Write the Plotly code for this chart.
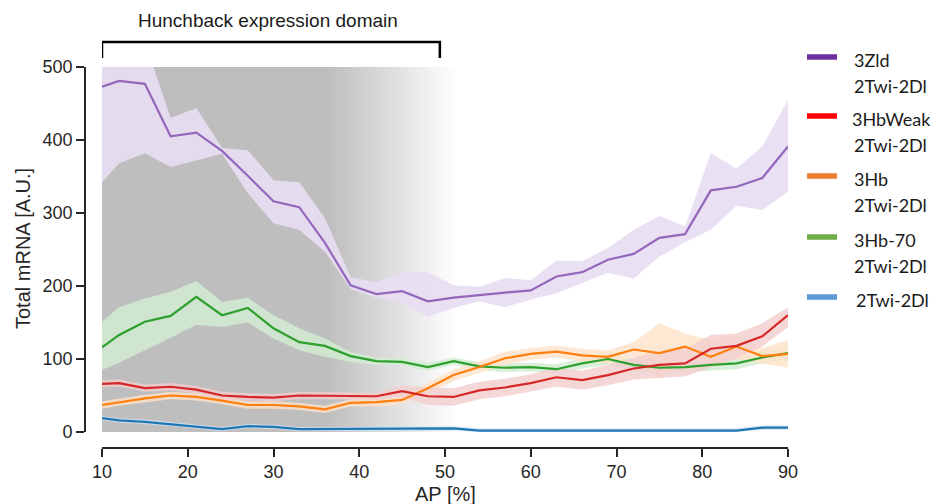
import plotly.graph_objects as go

# ---------------- data ----------------
ap = [10, 12, 15, 18, 21, 24, 27, 30, 33, 36, 39, 42, 45, 48, 51, 54, 57, 60,
      63, 66, 69, 72, 75, 78, 81, 84, 87, 90]

zld_mean = [473, 481, 477, 405, 410, 385, 351, 316, 308, 259, 201, 189, 193, 179,
            184, 188, 191, 194, 213, 219, 236, 244, 266, 271, 331, 336, 348, 391]
zld_upper = [600, 590, 535, 430, 444, 389, 386, 345, 342, 293, 212, 205, 218, 219,
             201, 199, 211, 208, 235, 234, 252, 277, 296, 282, 382, 361, 391, 455]
zld_lower = [342, 368, 382, 363, 372, 381, 327, 286, 277, 247, 196, 184, 177, 158,
             170, 179, 171, 181, 190, 204, 218, 210, 240, 260, 277, 310, 304, 329]

hbw_mean = [66, 67, 60, 62, 58, 50, 48, 47, 50, 50, 50, 49, 56, 49,
            48, 57, 61, 67, 75, 71, 78, 87, 92, 94, 114, 118, 131, 160]
hbw_upper = [71, 72, 65, 67, 63, 55, 53, 52, 55, 55, 55, 54, 64, 61,
             60, 69, 73, 79, 88, 84, 92, 102, 110, 114, 133, 135, 149, 171]
hbw_lower = [61, 62, 55, 57, 53, 45, 43, 42, 45, 45, 45, 44, 48, 37,
             36, 45, 49, 55, 62, 58, 64, 72, 74, 76, 88, 101, 117, 144]

hb_mean = [37, 41, 46, 50, 48, 43, 37, 37, 35, 31, 40, 41, 44, 60,
           78, 89, 101, 107, 110, 105, 103, 113, 108, 117, 103, 117, 104, 107]
hb_upper = [42, 46, 51, 55, 53, 48, 42, 42, 40, 36, 45, 47, 50, 67,
            86, 97, 110, 115, 118, 114, 112, 123, 149, 135, 126, 133, 115, 126]
hb_lower = [32, 36, 41, 45, 43, 38, 32, 32, 30, 26, 35, 35, 38, 53,
            70, 81, 92, 99, 102, 96, 94, 103, 74, 101, 92, 100, 94, 88]

hb70_mean = [116, 133, 151, 159, 185, 160, 170, 142, 123, 118, 104, 97, 96, 89,
             97, 90, 88, 89, 86, 94, 100, 92, 88, 89, 92, 94, 102, 108]
hb70_upper = [151, 171, 183, 192, 207, 178, 184, 160, 142, 128, 110, 102, 101, 95,
              102, 96, 94, 95, 93, 101, 108, 100, 96, 97, 100, 103, 111, 118]
hb70_lower = [85, 95, 112, 129, 147, 144, 150, 128, 112, 103, 96, 92, 91, 84,
              92, 85, 82, 83, 80, 87, 92, 84, 80, 81, 84, 86, 94, 98]

twi_mean = [19, 16, 14, 11, 8, 4, 8, 7, 4, 4, 4, 4, 4, 4,
            5, 2, 2, 2, 2, 2, 2, 3, 2, 3, 3, 2, 6, 6]
twi_upper = [v + 3 for v in twi_mean]
twi_lower = [max(v - 3, 0) for v in twi_mean]

legend_line1 = ["3Zld", "3HbWeak", "3Hb", "3Hb-70", "2Twi-2Dl"]
legend_line2 = ["2Twi-2Dl", "2Twi-2Dl", "2Twi-2Dl", "2Twi-2Dl", ""]

x_ticks = [10, 20, 30, 40, 50, 60, 70, 80, 90]
y_ticks = [0, 100, 200, 300, 400, 500]

domain_start, domain_end = 10, 49.4       # hunchback bracket (AP %)
gray_solid_end, gray_fade_end = 36.5, 51.5  # shaded background

# ---------------- style ----------------
W, H = 935, 504
ML, MR, MT, MB = 85, 146, 67, 56
PW, PH = W - ML - MR, H - MT - MB


def px_x(p):
    return (p - ML) / PW


def px_y(p):
    return (H - MB - p) / PH


series = [
    # mean, upper, lower, line colour, band colour
    (twi_mean, twi_upper, twi_lower, "#1f77b4", "rgba(208,226,240,0.85)"),
    (hb70_mean, hb70_upper, hb70_lower, "#2ca02c", "rgba(210,236,210,0.85)"),
    (hb_mean, hb_upper, hb_lower, "#ff7f0e", "rgba(255,226,200,0.8)"),
    (hbw_mean, hbw_upper, hbw_lower, "#d62728", "rgba(243,205,205,0.8)"),
    (zld_mean, zld_upper, zld_lower, "#9467bd", "rgba(231,222,242,0.92)"),
]
legend_colors = ["#7030A0", "#FF0000", "#ED7D31", "#70AD47", "#5B9BD5"]

fig = go.Figure()

for mean, up, lo, lc, bc in series:
    fig.add_trace(go.Scatter(
        x=ap + ap[::-1], y=up + lo[::-1], fill="toself", fillcolor=bc,
        line=dict(width=0), mode="lines", hoverinfo="skip", showlegend=False))

for mean, up, lo, lc, bc in series:
    fig.add_trace(go.Scatter(
        x=ap, y=mean, mode="lines", line=dict(color=lc, width=2.2),
        showlegend=False))

shapes = []
# shaded background: solid part then fading to white (overlapping strips)
shapes.append(dict(type="rect", xref="x", yref="y", x0=10, x1=gray_fade_end,
                   y0=0, y1=500, fillcolor="rgb(190,190,190)",
                   line=dict(width=0), layer="below"))
n = 70
step = (gray_fade_end - gray_solid_end) / n
for i in range(1, n + 1):
    t = i / n
    g = int(round(190 + (255 - 190) * t))
    shapes.append(dict(type="rect", xref="x", yref="y",
                       x0=gray_solid_end + (i - 1) * step,
                       x1=gray_fade_end + 0.3,
                       y0=0, y1=500, fillcolor=f"rgb({g},{g},{g})",
                       line=dict(width=0), layer="below"))

# bracket
yb_top, yb_bot = px_y(42), px_y(58)
shapes.append(dict(type="path", xref="x", yref="paper",
                   path=f"M {domain_start},{yb_bot} L {domain_start},{yb_top} "
                        f"L {domain_end},{yb_top} L {domain_end},{yb_bot}",
                   line=dict(color="black", width=2.5)))

annotations = []
annotations.append(dict(text="Hunchback expression domain", xref="x", yref="paper",
                        x=(domain_start + domain_end) / 2 - 0.4, y=px_y(21),
                        showarrow=False, xanchor="center", yanchor="middle",
                        font=dict(family="Liberation Sans, Arial", size=19,
                                  color="#1a1a1a")))
annotations.append(dict(text="Total mRNA [A.U.]", xref="paper", yref="paper",
                        x=px_x(23), y=px_y(249), textangle=-90, showarrow=False,
                        xanchor="center", yanchor="middle",
                        font=dict(family="Liberation Sans, Arial", size=20,
                                  color="#262626")))
annotations.append(dict(text="AP [%]", xref="x", yref="paper", x=50,
                        y=px_y(494), showarrow=False, xanchor="center",
                        yanchor="middle",
                        font=dict(family="Liberation Sans, Arial", size=20,
                                  color="#262626")))

# manual legend
line_y = [57, 116, 176, 237, 297]
text_x = [852, 850, 852, 852, 854]
for i in range(len(legend_line1)):
    shapes.append(dict(type="line", xref="paper", yref="paper",
                       x0=px_x(807), x1=px_x(837), y0=px_y(line_y[i]),
                       y1=px_y(line_y[i]),
                       line=dict(color=legend_colors[i], width=5.5)))
    annotations.append(dict(text=legend_line1[i], xref="paper", yref="paper",
                            x=px_x(text_x[i]), y=px_y(line_y[i] + 3),
                            showarrow=False, xanchor="left", yanchor="middle",
                            font=dict(family="Lato", size=18, color="#1a1a1a")))
    if legend_line2[i]:
        annotations.append(dict(text=legend_line2[i], xref="paper", yref="paper",
                                x=px_x(852), y=px_y(line_y[i] + 29),
                                showarrow=False, xanchor="left",
                                yanchor="middle",
                                font=dict(family="Lato", size=18,
                                          color="#1a1a1a")))

axis_common = dict(showline=True, linecolor="#262626", linewidth=1.6,
                   ticks="outside", ticklen=8, tickwidth=1.6,
                   tickcolor="#262626", showgrid=False, zeroline=False,
                   tickfont=dict(family="Liberation Sans, Arial", size=18,
                                 color="#262626"))

fig.update_layout(
    width=W, height=H, autosize=False,
    margin=dict(l=ML, r=MR, t=MT, b=MB, pad=0),
    paper_bgcolor="white", plot_bgcolor="white",
    showlegend=False,
    xaxis=dict(range=[10, 90], domain=[px_x(102), px_x(788)], anchor="free",
               position=0, tickvals=x_ticks, **axis_common),
    yaxis=dict(range=[0, 500], domain=[px_y(432), px_y(67)], anchor="free",
               position=0, tickvals=y_ticks, **axis_common),
    shapes=shapes, annotations=annotations,
)

fig.write_html("out.html")
